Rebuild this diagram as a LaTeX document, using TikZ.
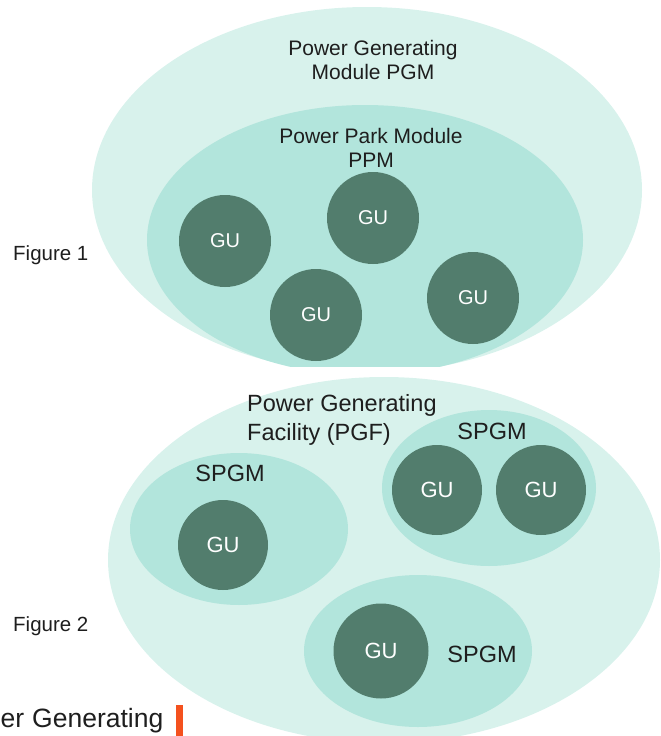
\documentclass[tikz,border=0pt]{standalone}
\usepackage{fontspec}
\setmainfont{Liberation Sans}
\usetikzlibrary{shapes.geometric}
\definecolor{outerc}{HTML}{D8F2EC}
\definecolor{innerc}{HTML}{B2E5DC}
\definecolor{guc}{HTML}{527D6D}
\definecolor{txt}{HTML}{1E1E1E}
\definecolor{barc}{HTML}{F4511E}
\begin{document}
\begin{tikzpicture}[x=1pt,y=1pt,
  blob/.style={ellipse, inner sep=0pt, draw=none},
  outerblob/.style={blob, fill=outerc},
  innerblob/.style={blob, fill=innerc},
  gua/.style={circle, fill=guc, inner sep=0pt, minimum size=92pt, text=white, font=\fontsize{20}{24}\selectfont},
  gub/.style={gua, font=\fontsize{22}{26}\selectfont},
  lbla/.style={text=txt, align=center, inner sep=0pt, font=\fontsize{21}{24}\selectfont},
  lblb/.style={text=txt, align=left, inner sep=0pt, font=\fontsize{23.5}{29}\selectfont},
  figlbl/.style={text=txt, inner sep=0pt, anchor=west, font=\fontsize{20.5}{24}\selectfont},
]
\useasboundingbox (0,0) rectangle (661,-736);
\clip (0,0) rectangle (661,-736);
% Figure 1
\begin{scope}
\clip (0,0) rectangle (661,-366);
\node[outerblob, minimum width=550pt, minimum height=366pt] (pgm) at (367,-190) {};
\node[innerblob, minimum width=436pt, minimum height=270pt] (ppm) at (365,-240) {};
\node[gua] (gu1) at (225,-241) {GU};
\node[gua] (gu2) at (373,-218) {GU};
\node[gua] (gu3) at (316,-315) {GU};
\node[gua] (gu4) at (473,-298) {GU};
\end{scope}
\node[lbla] (pgmtxt) at (373,-60) {Power Generating\\Module PGM};
\node[lbla] (ppmtxt) at (371,-148) {Power Park Module\\PPM};
\node[figlbl] (fig1) at (13,-255) {Figure 1};
% Figure 2
\node[outerblob, minimum width=552pt, minimum height=366pt] (pgf) at (384,-560) {};
\node[innerblob, minimum width=218pt, minimum height=152pt] (spgma) at (239,-529) {};
\node[innerblob, minimum width=214pt, minimum height=156pt] (spgmb) at (489,-488) {};
\node[innerblob, minimum width=228pt, minimum height=152pt] (spgmc) at (418,-651) {};
\node[gub, minimum size=90pt] (gu5) at (223,-545) {GU};
\node[gub, minimum size=90pt] (gu6) at (437,-490) {GU};
\node[gub, minimum size=90pt] (gu7) at (541,-490) {GU};
\node[gub, minimum size=95pt] (gu8) at (381,-651) {GU};
\node[lblb, anchor=west] (pgftxt) at (247,-420) {Power Generating\\Facility (PGF)};
\node[lblb] (spgmtxta) at (230,-473) {SPGM};
\node[lblb] (spgmtxtb) at (492,-431) {SPGM};
\node[lblb] (spgmtxtc) at (482,-654) {SPGM};
\node[figlbl] (fig2) at (13,-626) {Figure 2};
% cut-off text at the bottom
\node[text=txt, inner sep=0pt, anchor=base west, font=\fontsize{26.5}{30}\selectfont] (cut) at (0.5,-727) {er\hspace{8pt}Generating};
\node[fill=barc, minimum width=7pt, minimum height=31pt, inner sep=0pt, anchor=north west] (bar) at (176,-705) {};
\end{tikzpicture}
\end{document}
